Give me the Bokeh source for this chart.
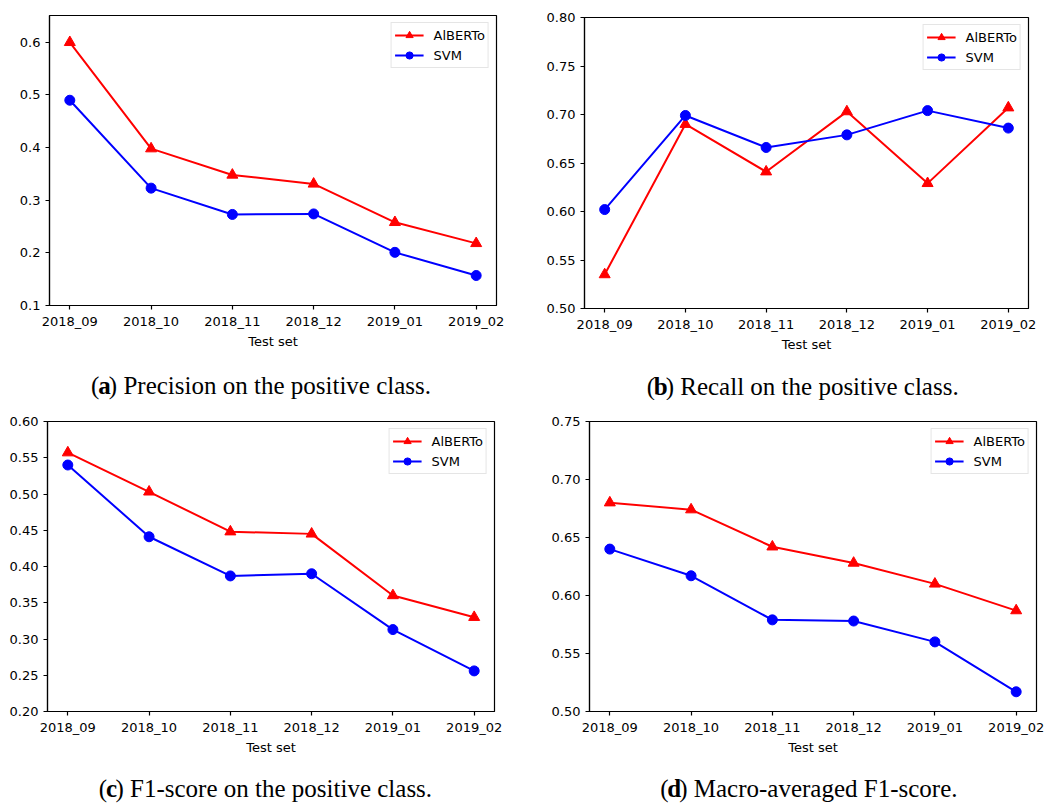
from bokeh.plotting import figure
from bokeh.models import (Range1d, FixedTicker, NumeralTickFormatter, Legend, LegendItem,
                          Label, ColumnDataSource)
from bokeh.layouts import column, row
from bokeh.embed import file_html
from bokeh.resources import INLINE

# ---------------- data ----------------
test_sets = ["2018_09", "2018_10", "2018_11", "2018_12", "2019_01", "2019_02"]
series_names = ["AlBERTo", "SVM"]

precision_alberto = [0.600, 0.398, 0.348, 0.331, 0.258, 0.218]
precision_svm = [0.490, 0.323, 0.273, 0.274, 0.201, 0.157]

recall_alberto = [0.535, 0.690, 0.641, 0.703, 0.629, 0.707]
recall_svm = [0.602, 0.699, 0.666, 0.679, 0.704, 0.686]

f1_alberto = [0.557, 0.503, 0.448, 0.445, 0.360, 0.330]
f1_svm = [0.540, 0.441, 0.387, 0.390, 0.313, 0.256]

macro_alberto = [0.680, 0.674, 0.642, 0.628, 0.610, 0.587]
macro_svm = [0.640, 0.617, 0.579, 0.578, 0.560, 0.517]

x_label = "Test set"
caption_letters = ["a", "b", "c", "d"]
caption_texts = [") Precision on the positive class.",
                 ") Recall on the positive class.",
                 ") F1-score on the positive class.",
                 ") Macro-averaged F1-score."]
yticks_a = [0.1, 0.2, 0.3, 0.4, 0.5, 0.6]
yticks_b = [0.50, 0.55, 0.60, 0.65, 0.70, 0.75, 0.80]
yticks_c = [0.20, 0.25, 0.30, 0.35, 0.40, 0.45, 0.50, 0.55, 0.60]
yticks_d = [0.50, 0.55, 0.60, 0.65, 0.70, 0.75]

# ---------------- styling helpers ----------------
TIMES = {" ": 250, "(": 333, ")": 333, "-": 333, ".": 250, "1": 500, "F": 556, "M": 889,
         "P": 556, "R": 667, "a": 444, "c": 444, "d": 500, "e": 444, "f": 333, "g": 500,
         "h": 500, "i": 278, "l": 278, "n": 500, "o": 500, "p": 500, "r": 333, "s": 389,
         "t": 278, "v": 500, "u": 500, "m": 778, "b": 500}
TIMES_BOLD = {"a": 500, "b": 556, "c": 444, "d": 556}
CAP_SIZE = 25
SANS = "DejaVu Sans"
SERIF = "Liberation Serif"
CAP_SHIFT = 40  # empirical correction of the caption strip's horizontal offset


def text_width(s, table, size):
    return sum(table.get(ch, 500) for ch in s) / 1000.0 * size


def caption_figure(width, height, letter, rest, cx, cy):
    c = figure(width=width, height=height, output_backend="svg", toolbar_location=None,
               x_range=Range1d(0, width), y_range=Range1d(height, 0),
               x_axis_location=None, y_axis_location=None,
               min_border=0, min_border_left=0, min_border_right=0,
               min_border_top=0, min_border_bottom=0)
    c.grid.visible = False
    c.outline_line_color = None
    c.background_fill_color = "white"
    c.border_fill_color = "white"
    w_open = text_width("(", TIMES, CAP_SIZE)
    w_let = text_width(letter, TIMES_BOLD, CAP_SIZE)
    w_rest = text_width(rest, TIMES, CAP_SIZE)
    x0 = cx - CAP_SHIFT - (w_open + w_let + w_rest) / 2
    common = dict(y=cy, text_align="left", text_baseline="middle", text_font=SERIF,
                  text_font_size=f"{CAP_SIZE}px", text_color="black")
    c.add_layout(Label(x=x0, text="(", **common))
    c.add_layout(Label(x=x0 + w_open, text=letter, text_font_style="bold", **common))
    c.add_layout(Label(x=x0 + w_open + w_let, text=rest, **common))
    return c


def make_panel(width, height, borders, yrange, yticks, fmt, alberto, svm):
    left, right, top, bottom = borders
    p = figure(width=width, height=height, output_backend="svg", toolbar_location=None,
               x_range=Range1d(-0.25, len(test_sets) - 0.75),
               y_range=Range1d(*yrange),
               min_border_left=left, min_border_right=right,
               min_border_top=top, min_border_bottom=bottom)
    p.grid.visible = False
    p.outline_line_color = "black"
    p.outline_line_width = 1.2
    p.outline_line_alpha = 1.0
    p.background_fill_color = "white"
    p.border_fill_color = "white"

    xs = list(range(len(test_sets)))
    for ax in (p.xaxis[0], p.yaxis[0]):
        ax.axis_line_color = "black"
        ax.axis_line_width = 1.2
        ax.major_tick_line_color = "black"
        ax.major_tick_line_width = 1.2
        ax.major_tick_out = 4
        ax.major_tick_in = 0
        ax.minor_tick_line_color = None
        ax.major_label_text_font = SANS
        ax.major_label_text_font_size = "13px"
        ax.major_label_text_color = "black"

    p.xaxis.ticker = FixedTicker(ticks=xs)
    p.xaxis.major_label_overrides = {i: t for i, t in enumerate(test_sets)}
    p.xaxis.major_label_standoff = 4
    p.xaxis.axis_label = x_label
    p.xaxis.axis_label_text_font = SANS
    p.xaxis.axis_label_text_font_size = "13px"
    p.xaxis.axis_label_text_font_style = "normal"
    p.xaxis.axis_label_text_color = "black"
    p.xaxis.axis_label_standoff = 2

    p.yaxis.ticker = FixedTicker(ticks=yticks)
    p.yaxis.formatter = NumeralTickFormatter(format=fmt)
    p.yaxis.major_label_standoff = 5

    src_a = ColumnDataSource(dict(x=xs, y=alberto))
    src_s = ColumnDataSource(dict(x=xs, y=svm))
    la = p.line("x", "y", source=src_a, line_color="#ff0000", line_width=2)
    ma = p.scatter("x", "y", source=src_a, marker="triangle", size=11,
                   fill_color="#ff0000", line_color="#ff0000")
    ls = p.line("x", "y", source=src_s, line_color="#0000ff", line_width=2)
    ms = p.scatter("x", "y", source=src_s, marker="circle", size=10,
                   fill_color="#0000ff", line_color="#0000ff")

    legend = Legend(items=[LegendItem(label=series_names[0], renderers=[la, ma]),
                           LegendItem(label=series_names[1], renderers=[ls, ms])],
                    location="top_right", margin=7, padding=3, spacing=2,
                    glyph_width=29, glyph_height=18, label_height=18,
                    label_standoff=10,
                    label_text_font=SANS, label_text_font_size="13px",
                    label_text_color="black",
                    border_line_color="#cccccc", border_line_width=1,
                    background_fill_color="white", background_fill_alpha=0.8)
    p.add_layout(legend, "center")
    return p


TOP_H, TOP_CAP = 362, 38
BOT_H, BOT_CAP = 365, 38

pa = make_panel(522, TOP_H, (49, 26, 15, TOP_H - 305), (0.1, 0.651), yticks_a, "0.0",
                precision_alberto, precision_svm)
pb = make_panel(523, TOP_H, (62, 17, 17, TOP_H - 308), (0.5, 0.8), yticks_b, "0.00",
                recall_alberto, recall_svm)
pc = make_panel(522, BOT_H, (47, 28, 21, BOT_H - 311), (0.2, 0.6), yticks_c, "0.00",
                f1_alberto, f1_svm)
pd = make_panel(523, BOT_H, (67, 9, 21, BOT_H - 311), (0.5, 0.75), yticks_d, "0.00",
                macro_alberto, macro_svm)

# caption vertical centre, measured from the top of each caption strip
ca = caption_figure(522, TOP_CAP, caption_letters[0], caption_texts[0], 260, 385 - TOP_H)
cb = caption_figure(523, TOP_CAP, caption_letters[1], caption_texts[1], 271, 386 - TOP_H)
cc = caption_figure(522, BOT_CAP, caption_letters[2], caption_texts[2], 268, 388 - BOT_H)
cd = caption_figure(523, BOT_CAP, caption_letters[3], caption_texts[3], 273, 388 - BOT_H)

layout = column(
    row(column(pa, ca, spacing=0), column(pb, cb, spacing=0), spacing=0),
    row(column(pc, cc, spacing=0), column(pd, cd, spacing=0), spacing=0),
    spacing=0)

with open("out.html", "w") as f:
    f.write(file_html(layout, INLINE))
